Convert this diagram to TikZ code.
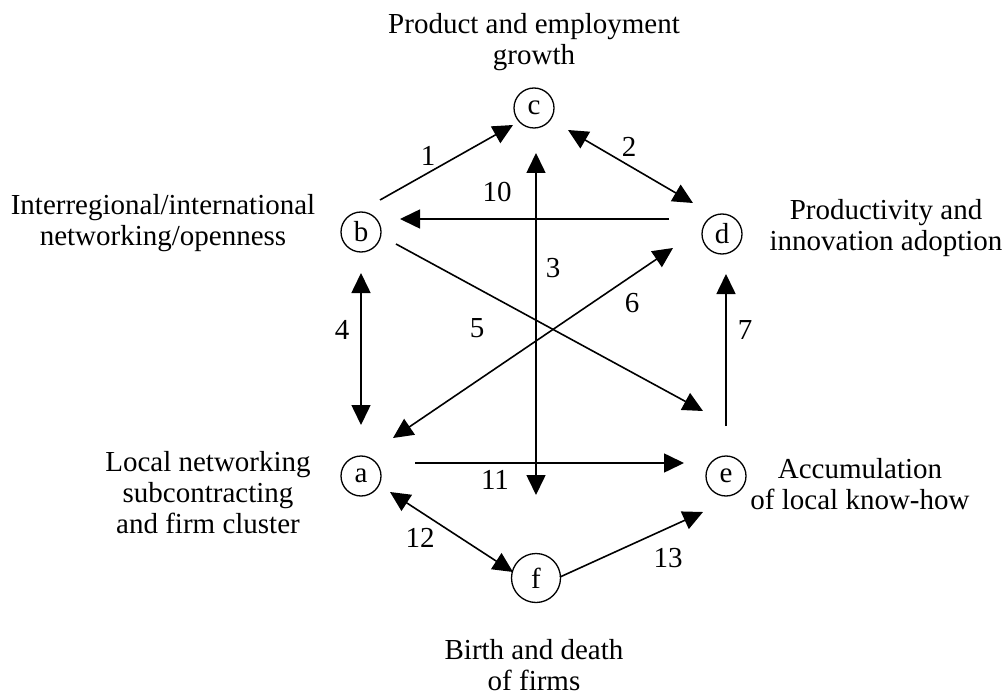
\documentclass[tikz,border=0pt]{standalone}
\usepackage{fontspec}
\setmainfont{Liberation Serif}
\usetikzlibrary{arrows.meta}
\begin{document}
\begin{tikzpicture}[x=1pt,y=-1pt,
  every node/.style={font=\fontsize{29}{31}\selectfont},
  state/.style={circle,draw,line width=1.3pt,minimum size=40pt,inner sep=0pt},
  bigstate/.style={state,minimum size=49pt},
  conn/.style={line width=1.6pt},
  tipstyle/.style={},
  arr/.style={conn,-{Triangle[length=20pt,width=19pt]}},
  darr/.style={conn,{Triangle[length=20pt,width=19pt]}-{Triangle[length=20pt,width=19pt]}},
  num/.style={inner sep=0pt},
  desc/.style={align=center,inner sep=0pt}]
\useasboundingbox (0,0) rectangle (1004,695);
% circles
\node[state] (c) at (534,108) {c};
\node[state] (b) at (361,232) {b};
\node[state] (d) at (722,234) {d};
\node[state] (a) at (361,476) {a};
\node[state] (e) at (726,476) {e};
\node[bigstate] (f) at (536,578) {f};
% descriptions
\node[desc] (tc) at (534,42) {Product and employment\\growth};
\node[desc] (tb) at (163,223) {Interregional/international\\networking/openness};
\node[desc] (td) at (886,228) {Productivity and\\innovation adoption};
\node[desc] (ta) at (208,493) {Local networking\\subcontracting\\and firm cluster};
\node[desc] (te) at (860,484) {Accumulation\\of local know-how};
\node[desc] (tf) at (534,665) {Birth and death\\of firms};
% connectors
\draw[arr]  ([shift={(19,-32)}]b.center) -- ([shift={(-21,17)}]c.center);
\draw[darr] ([shift={(34,22)}]c.center) -- ([shift={(-29,-31)}]d.center);
\draw[darr] ([shift={(2,45)}]c.center) -- ([shift={(0,-83)}]f.center);
\draw[arr]  ([shift={(-53,-15)}]d.center) -- ([shift={(39,-13)}]b.center);
\draw[darr] ([shift={(0,41)}]b.center) -- ([shift={(0,-51)}]a.center);
\draw[darr] ([shift={(32,-38)}]a.center) -- ([shift={(-49,14)}]d.center);
\draw[arr]  ([shift={(35,12)}]b.center) -- ([shift={(-23,-65)}]e.center);
\draw[arr]  ([shift={(0,-50)}]e.center) -- ([shift={(4,40)}]d.center);
\draw[arr]  ([shift={(54,-13)}]a.center) -- ([shift={(-42,-13)}]e.center);
\draw[darr] ([shift={(29,16)}]a.center) -- ([shift={(-23,-6)}]f.center);
\draw[arr]  ([shift={(24,-1)}]f.center) -- ([shift={(-23,36)}]e.center);
% numbers
\node[num] (n1) at (428,156) {1};
\node[num] (n2) at (629,147) {2};
\node[num] (n10) at (497,192) {10};
\node[num] (n3) at (553,268) {3};
\node[num] (n4) at (342,330) {4};
\node[num] (n5) at (477,328) {5};
\node[num] (n6) at (632,303) {6};
\node[num] (n7) at (745,330) {7};
\node[num] (n11) at (495,480) {11};
\node[num] (n12) at (420,538) {12};
\node[num] (n13) at (668,558) {13};
\end{tikzpicture}
\end{document}
